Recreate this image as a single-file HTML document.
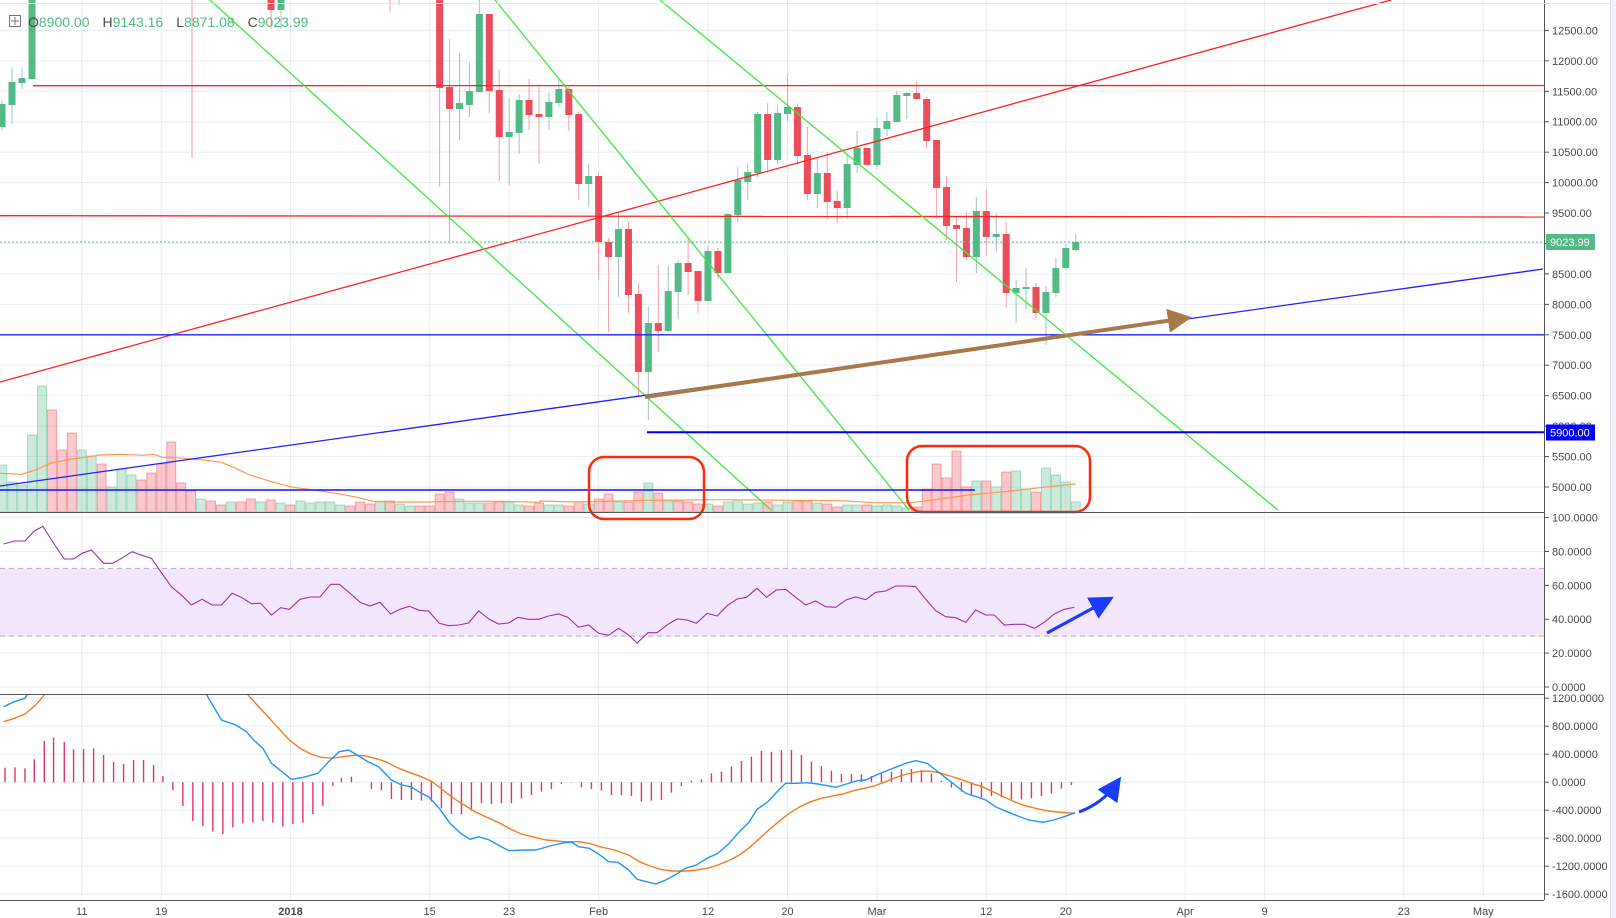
<!DOCTYPE html>
<html><head><meta charset="utf-8">
<style>
html,body{margin:0;padding:0;background:#fff;width:1616px;height:918px;overflow:hidden}
svg{display:block}
text{font-family:"Liberation Sans",Arial,sans-serif}
</style></head>
<body>
<svg id="s" width="1616" height="918" viewBox="0 0 1616 918" xmlns="http://www.w3.org/2000/svg">
<defs>
<clipPath id="cm"><rect x="0" y="0" width="1544" height="512"/></clipPath>
<clipPath id="cd"><rect x="0" y="695" width="1544" height="205"/></clipPath>
<marker id="ab" markerWidth="8" markerHeight="8" refX="5" refY="4" orient="auto" markerUnits="strokeWidth"><path d="M0,0 L8,4 L0,8 z" fill="#1a3cff"/></marker>
<marker id="abr" markerWidth="6" markerHeight="6" refX="3" refY="3" orient="auto" markerUnits="strokeWidth"><path d="M0,0 L6,3 L0,6 z" fill="#a87a4a"/></marker>
</defs>
<g id="root"></g>
</svg>
<script>
var NS="http://www.w3.org/2000/svg",root=document.getElementById('root');
function el(t,a,p,txt){var e=document.createElementNS(NS,t);for(var k in a)e.setAttribute(k,a[k]);if(txt!==undefined)e.textContent=txt;(p||root).appendChild(e);return e;}
function X(d){return 290.5+d*9.94;}
function PY(p){return 30.4+(12500-p)*0.06088;}
function RY(v){return 687-v*1.694;}
function MY(m){return 782.2-m*0.07;}
var G="#e9eef3";
for(var p=5000;p<=12500;p+=500)el('line',{x1:0,x2:1544,y1:PY(p),y2:PY(p),stroke:G});
for(var v=0;v<=100;v+=20)el('line',{x1:0,x2:1544,y1:RY(v),y2:RY(v),stroke:G});
for(var m=-1600;m<=1200;m+=400)el('line',{x1:0,x2:1544,y1:MY(m),y2:MY(m),stroke:G});
var tl=[[-21,"11"],[-13,"19"],[0,"2018"],[14,"15"],[22,"23"],[31,"Feb"],[42,"12"],[50,"20"],[59,"Mar"],[70,"12"],[78,"20"],[90,"Apr"],[98,"9"],[112,"23"],[120,"May"]];
tl.forEach(function(t){var x=X(t[0]);el('line',{x1:x,x2:x,y1:0,y2:900,stroke:G});
el('text',{x:x,y:915,'font-size':11,'text-anchor':'middle',fill:'#4a4a4a','font-weight':t[1]=="2018"?'bold':'normal'},null,t[1]);});
el('rect',{x:0,y:RY(70),width:1544,height:RY(30)-RY(70),fill:'#f4e6fd'});
el('line',{x1:0,x2:1544,y1:RY(70),y2:RY(70),stroke:'#bba6c0','stroke-dasharray':'5,4'});
el('line',{x1:0,x2:1544,y1:RY(30),y2:RY(30),stroke:'#bba6c0','stroke-dasharray':'5,4'});
var v1=[465,482,485,435,386,410,450,433,450,456,464,487,469,475,480,473,464,442,483,491,499,501,505,502,502,499,502,500,503,505,501,503,502,502,505,506,502,504,501,501,504,506,506,506,494,492,499,503,503,503,502,502,505,506,503];
var c1="ggggg rrrggrgggrrrrrrgrrgrrgrgrgggggrrrgrggrrrrgggrrggrr".replace(/ /g,'');
var v2=[505,505,506,502,504,499,494,502,502,492,483,493,501,501,502,504,504,506,502,500,504,503,502,505,502,501,501,503,504,507,505,505,505,506,505,506,508,507,489,464,478,451,487,481,481,487,472,471,489,492,468,475,482,502];
var c2="ggrrgrrgrrgrgrrrgrggggrggrrgrrggrgggg rrrrrr grgrggrgggg".replace(/ /g,'');
var vg=el('g',{'clip-path':'url(#cm)'});
function vol(d,t,c){var x=X(d);el('rect',{x:x-4.5,y:t,width:9,height:512-t,fill:c=='g'?'rgba(83,185,135,0.3)':'rgba(235,77,92,0.3)',stroke:c=='g'?'rgba(83,185,135,0.45)':'rgba(235,77,92,0.45)','stroke-width':1},vg);}
v1.forEach(function(t,i){vol(-29+i,t,c1[i]||'g');});
v2.forEach(function(t,i){vol(26+i,t,c2[i]||'g');});
var ma1=[[0,310],[60,313],[100,300],[140,280],[200,267],[240,262],[280,255],[340,253],[400,256],[430,253],[455,262],[520,265],[570,270],[620,277],[660,295],[700,315],[760,335],[820,352],[880,360],[940,370],[1000,382],[1050,395],[1100,396],[1200,396],[1300,394],[1400,394],[1512,397]];
var ma2=[[0,213],[100,216],[300,211],[500,209],[700,211],[840,212],[940,218],[1040,218],[1100,210],[1200,195],[1300,185],[1400,173],[1500,162]];
var pts=ma1.map(function(a){return (a[0]/2.8).toFixed(1)+","+(370+a[1]/3).toFixed(1);}).concat(ma2.map(function(a){return (540+a[0]/2.8).toFixed(1)+","+(430+a[1]/3).toFixed(1);}));
el('polyline',{points:pts.join(' '),fill:'none',stroke:'#ff9850','stroke-width':1.2});
var cg=el('g',{'clip-path':'url(#cm)'});
function wick(x,a,b,c){el('line',{x1:x,x2:x,y1:a,y2:b,stroke:c=='g'?'#9fc3c0':'#f2a0a8','stroke-width':1},cg);}
function cand(x,bt,bb,wt,wb,c){wick(x,wt,wb,c);el('rect',{x:x-3.5,y:bt,width:7,height:Math.max(bb-bt,1.5),fill:c=='g'?'#53b987':'#eb4d5c'},cg);}
cand(2,104,127,100,130,'g');cand(12,82,105,68,124,'g');cand(22,78,83,68,89,'g');cand(32,0,79,0,79,'g');
cand(271,0,10,0,29,'r');cand(281,0,10,0,29,'g');wick(192,0,158,'r');wick(390,0,12,'r');wick(399,0,5,'g');
var C=[[0,88,0,187,'r'],[87,109,39,242,'r'],[103,109,53,140,'g'],[91,105,62,117,'g'],[14,92,0,92,'g'],[14,91,14,113,'r'],[90,137,70,181,'r'],[132,137,99,185,'g'],[100,133,94,154,'g'],[100,115,79,130,'r'],
[114,117,87,164,'r'],[102,117,93,130,'g'],[89,103,79,107,'g'],[89,115,87,131,'r'],[114,184,112,200,'r'],[176,184,164,207,'g'],[176,242,172,280,'r'],[242,257,238,332,'r'],[229,257,213,297,'g'],[229,295,222,313,'r'],
[294,372,283,398,'r'],[323,372,307,420,'g'],[323,331,265,352,'r'],[291,331,266,331,'g'],[263,292,261,319,'g'],[263,272,237,295,'r'],[271,301,271,313,'r'],[251,301,246,301,'g'],[251,273,248,279,'r'],[214,273,214,273,'g'],
[180,215,167,222,'g'],[172,182,164,200,'g'],[114,173,112,178,'g'],[114,160,103,173,'r'],[113,160,105,164,'g'],[107,114,74,121,'g'],[107,156,104,165,'r'],[155,194,127,200,'r'],[173,194,158,208,'g'],[173,202,152,220,'r'],
[201,208,191,223,'r'],[164,208,155,219,'g'],[148,165,131,173,'g'],[148,165,148,165,'r'],[128,165,117,169,'g'],[121,129,112,136,'g'],[95,122,91,122,'g'],[93,96,92,119,'g'],[93,99,82,100,'r'],[99,141,97,148,'r'],
[140,188,140,219,'r'],[187,226,176,240,'r'],[225,229,217,282,'r'],[228,257,212,260,'r'],[211,257,197,273,'g'],[211,237,189,256,'r'],[234,237,214,252,'g'],[234,293,222,308,'r'],[288,293,280,323,'g'],[287,289,268,309,'g'],
[287,313,283,318,'r'],[292,313,286,345,'g'],[268,293,258,297,'g'],[248,268,244,270,'g'],[242,250,234,251,'g']];
C.forEach(function(c,i){cand(X(15+i),c[0],c[1],c[2],c[3],c[4]);});
var dg=el('g',{'clip-path':'url(#cm)'});
el('line',{x1:0,y1:382,x2:1391,y2:0,stroke:'#ff2020','stroke-width':1.3},dg);
el('line',{x1:33,y1:85.7,x2:1544,y2:85.5,stroke:'#ff2020','stroke-width':1.3},dg);
el('line',{x1:0,y1:215.7,x2:1544,y2:217,stroke:'#ff2020','stroke-width':1.3},dg);
el('line',{x1:210,y1:0,x2:771,y2:510,stroke:'#3ee83e','stroke-width':1.3},dg);
el('line',{x1:495,y1:0,x2:909,y2:510,stroke:'#3ee83e','stroke-width':1.3},dg);
el('line',{x1:660,y1:0,x2:1278,y2:510,stroke:'#3ee83e','stroke-width':1.3},dg);
el('line',{x1:0,y1:486,x2:1543,y2:269,stroke:'#2020ff','stroke-width':1.3},dg);
el('line',{x1:0,y1:334.8,x2:1544,y2:334.8,stroke:'#2020ff','stroke-width':1.3},dg);
el('line',{x1:0,y1:490,x2:975,y2:490,stroke:'#1010ff','stroke-width':1.5},dg);
el('line',{x1:647,y1:432.2,x2:1544,y2:432.2,stroke:'#0000ee','stroke-width':2},dg);
el('line',{x1:0,y1:242,x2:1544,y2:242,stroke:'#53b987','stroke-width':1,'stroke-dasharray':'2,2'},dg);
el('line',{x1:645,y1:397,x2:1180,y2:319,stroke:'#a87a4a','stroke-width':4,'marker-end':'url(#abr)'},dg);
el('rect',{x:589,y:457,width:115,height:62,rx:15,fill:'none',stroke:'#ff2a0a','stroke-width':2.5});
el('rect',{x:907,y:446,width:183,height:66,rx:15,fill:'none',stroke:'#ff2a0a','stroke-width':2.5});
var R=[[5,117],[20,108],[35,108],[48,78],[60,64],[75,115],[90,162],[103,162],[115,145],[128,135],[145,175],[158,175],[170,160],[185,140],[200,152],[212,160],[225,200],[240,245],[255,272],[268,300],[283,283],[297,300],[310,300],[325,265],[338,277],[352,296],[365,295],[380,330],[393,308],[405,313],[420,283],[435,276],[448,276],[463,238],[475,238],[490,265],[505,293],[518,303],[532,292],[547,327],[560,313],[573,304],[587,316],[600,318],[615,355],[628,362],[642,360],[656,354],[670,318],[685,343],[698,357],[712,354],[725,337],[740,343],[754,343],[768,333],[782,327],[795,337],[810,367],[824,360],[838,385],[852,391],[866,370],[880,390],[892,414],[907,383],[920,383],[935,358],[948,342],[962,345],[975,355],[990,325],[1004,333],[1018,302],[1032,282],[1045,277],[1060,250],[1073,277],[1087,255],[1100,253],[1114,277],[1128,300],[1142,288],[1156,305],[1170,307],[1185,284],[1198,276],[1212,284],[1226,262],[1240,258],[1254,243],[1268,243],[1282,245],[1296,283],[1310,317],[1324,335],[1338,338],[1352,352],[1366,315],[1380,330],[1392,330],[1406,360],[1420,358],[1434,358],[1448,370],[1462,352],[1476,327],[1490,313],[1504,307]];
el('polyline',{points:R.map(function(a){return (a[0]/1.4).toFixed(1)+","+(505+a[1]/3).toFixed(1);}).join(' '),fill:'none',stroke:'#9a2fb0','stroke-width':1.1});
el('line',{x1:1047,y1:633,x2:1106,y2:601,stroke:'#1a3cff','stroke-width':3,'marker-end':'url(#ab)'});
var mg=el('g',{'clip-path':'url(#cd)'});
var H=[[7,233],[21,232],[35,235],[48,208],[62,153],[75,142],[90,156],[103,178],[117,177],[131,175],[145,195],[159,216],[173,222],[187,210],[201,210],[215,225],[228,258],[242,300],[256,348],[270,393],[284,408],[298,425],[312,432],[326,412],[340,400],[354,398],[368,393],[382,398],[396,410],[410,402],[424,398],[438,372],[452,348],[466,288],[478,263],[492,260],[520,297],[534,300],[548,327],[562,330],[576,330],[590,332],[604,335],[618,355],[632,372],[646,373],[660,362],[674,340],[688,342],[702,340],[716,340],[730,325],[744,315],[758,305],[772,297],[786,282],[800,278],[814,292],[828,297],[842,302],[856,315],[870,315],[884,318],[898,335],[912,332],[926,330],[940,308],[954,288],[968,272],[982,268],[996,250],[1010,245],[1024,230],[1038,213],[1052,200],[1066,183],[1080,185],[1094,180],[1108,180],[1122,195],[1136,215],[1150,228],[1164,242],[1178,252],[1192,252],[1206,253],[1220,258],[1234,250],[1248,245],[1262,237],[1276,237],[1290,240],[1304,250],[1318,272],[1332,293],[1346,305],[1360,315],[1374,322],[1388,318],[1402,322],[1416,328],[1430,328],[1444,325],[1458,318],[1472,310],[1486,296],[1500,285]];
H.forEach(function(h){var x=h[0]/1.4;el('line',{x1:x,x2:x,y1:782.2,y2:690+h[1]/3,stroke:'#e8306f','stroke-width':1.4},mg);});
var MB=[[5,50],[20,35],[35,25],[45,-10],[280,-10],[288,10],[310,90],[330,105],[345,125],[355,150],[368,175],[380,220],[395,245],[408,268],[425,262],[445,250],[460,215],[475,185],[488,180],[500,195],[515,215],[530,230],[548,270],[562,285],[575,290],[590,310],[600,320],[615,355],[630,400],[645,430],[658,448],[670,440],[685,450],[700,468],[712,482],[735,480],[750,480],[770,468],[790,458],[800,456],[810,470],[825,475],[840,495],[852,515],[865,517],[880,540],[892,568],[905,575],[918,582],[930,572],[945,555],[960,535],[975,525],[990,505],[1005,490],[1020,462],[1035,425],[1048,398],[1060,358],[1075,335],[1090,300],[1100,280],[1115,280],[1130,278],[1145,282],[1170,292],[1185,282],[1200,272],[1212,270],[1230,252],[1250,235],[1268,220],[1282,212],[1298,220],[1310,240],[1325,265],[1340,290],[1352,310],[1367,320],[1380,330],[1395,352],[1410,365],[1425,378],[1440,390],[1460,397],[1475,390],[1490,380],[1505,368]];
var MO=[[5,95],[20,85],[35,72],[50,45],[60,20],[70,-10],[340,-10],[345,10],[360,45],[375,80],[390,115],[405,150],[420,175],[435,192],[450,202],[465,205],[480,200],[495,196],[510,197],[525,205],[540,215],[555,232],[570,245],[590,260],[605,275],[620,300],[635,325],[650,345],[665,365],[680,380],[700,400],[715,418],[730,432],[745,440],[765,450],[790,455],[810,455],[825,460],[840,470],[860,480],[880,495],[895,515],[910,528],[925,538],[940,543],[960,543],[975,540],[990,535],[1005,525],[1020,512],[1035,495],[1048,475],[1062,448],[1075,422],[1090,395],[1105,370],[1120,350],[1135,335],[1150,325],[1165,318],[1180,312],[1195,302],[1210,295],[1225,287],[1240,275],[1255,262],[1270,252],[1285,245],[1300,243],[1315,248],[1330,258],[1345,268],[1360,280],[1375,290],[1390,305],[1405,320],[1420,335],[1435,347],[1450,355],[1465,362],[1480,366],[1505,370]];
function mp(a){return a.map(function(p){return (p[0]/1.4).toFixed(1)+","+(690+p[1]/3).toFixed(1);}).join(' ');}
el('polyline',{points:mp(MO),fill:'none',stroke:'#f57c1f','stroke-width':1.4},mg);
el('polyline',{points:mp(MB),fill:'none',stroke:'#2196f3','stroke-width':1.4},mg);
el('path',{d:'M1079,812 Q1103,803 1116,784',fill:'none',stroke:'#1a3cff','stroke-width':3,'marker-end':'url(#ab)'});
el('line',{x1:0,x2:1544,y1:512.5,y2:512.5,stroke:'#555','stroke-width':1});
el('line',{x1:0,x2:1544,y1:694.5,y2:694.5,stroke:'#555','stroke-width':1});
el('line',{x1:0,x2:1544,y1:900.5,y2:900.5,stroke:'#555','stroke-width':1});
el('line',{x1:1544.5,x2:1544.5,y1:0,y2:900,stroke:'#555','stroke-width':1});
el('line',{x1:1610.5,x2:1610.5,y1:0,y2:918,stroke:'#dde1e6','stroke-width':1});
el('rect',{x:1611,y:0,width:5,height:918,fill:'#f0f2f5'});
el('line',{x1:0,x2:1610,y1:3.5,y2:3.5,stroke:'#e3e6ea','stroke-width':1});
function lab(y,t){el('line',{x1:1544,x2:1549,y1:y,y2:y,stroke:'#555'});el('text',{x:1552,y:y+4,'font-size':11,fill:'#4a4a4a'},null,t);}
for(var p=5000;p<=12500;p+=500)lab(PY(p),p.toFixed(2));
for(var v=0;v<=100;v+=20)lab(RY(v),v.toFixed(4));
for(var m=-1600;m<=1200;m+=400)lab(MY(m),m.toFixed(4));
el('rect',{x:1546,y:234,width:49,height:16,fill:'#53b987'});
el('text',{x:1550,y:246,'font-size':11,fill:'#fff'},null,"9023.99");
el('rect',{x:1546,y:424.5,width:49,height:16,fill:'#0000ff'});
el('text',{x:1550,y:436.5,'font-size':11,fill:'#fff'},null,"5900.00");
el('rect',{x:9.5,y:15.5,width:11,height:11,fill:'#fff',stroke:'#777'});
el('line',{x1:15,x2:15,y1:17,y2:25,stroke:'#777'});el('line',{x1:11,x2:19,y1:21,y2:21,stroke:'#777'});
var ht=[["O","8900.00"],["H","9143.16"],["L","8871.08"],["C","9023.99"]];
var tx=el('text',{x:28,y:27,'font-size':14});
ht.forEach(function(h,i){el('tspan',{fill:'#4a4a4a',dx:i?13:0},tx,h[0]);el('tspan',{fill:'#53b987'},tx,h[1]);});
</script>
</body></html>
